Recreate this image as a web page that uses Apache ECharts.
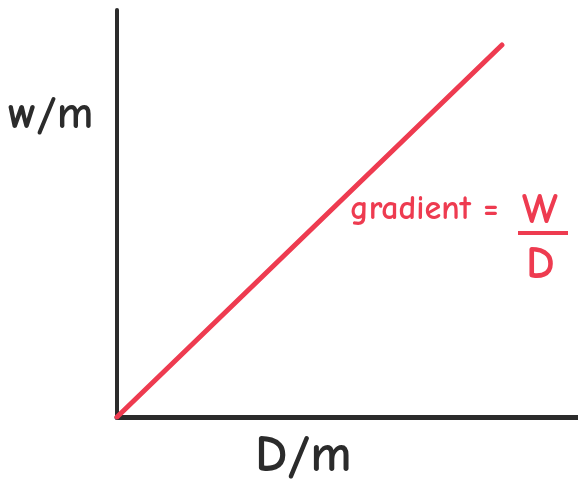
<!DOCTYPE html>
<html>
  <head>
    <meta charset="utf-8" />
    <script src="https://cdn.jsdelivr.net/npm/echarts@6/dist/echarts.min.js"></script>
    <style>
      html, body { margin: 0; padding: 0; background: #ffffff; }
      #chart { width: 578px; height: 495px; }
    </style>
  </head>
  <body>
    <div id="chart"></div>
    <script>
      // straight line through the origin: D on x, W on y
      var lineD = [0, 8.35]
      var lineW = [0, 9.14]
      var xName = 'D/m'
      var yName = 'w/m'
      var gradientLabel = 'gradient ='
      var fracTop = 'W'
      var fracBottom = 'D'

      var red = '#ee3b50'
      var ink = '#2b2b2b'
      var hand = '"Comic Neue", "Liberation Sans", "DejaVu Sans", sans-serif'

      var points = []
      for (var i = 0; i < lineD.length; i++) {
        points.push([lineD[i], lineW[i]])
      }

      var chart = echarts.init(document.getElementById('chart'))
      chart.setOption({
        backgroundColor: '#ffffff',
        animation: false,
        grid: { left: 117, top: 10, right: 0, bottom: 78 },
        xAxis: {
          type: 'value',
          min: 0,
          max: 10,
          axisLine: { show: true, lineStyle: { color: ink, width: 5 } },
          axisTick: { show: false },
          axisLabel: { show: false },
          splitLine: { show: false }
        },
        yAxis: {
          type: 'value',
          min: 0,
          max: 10,
          axisLine: { show: true, lineStyle: { color: ink, width: 4 } },
          axisTick: { show: false },
          axisLabel: { show: false },
          splitLine: { show: false }
        },
        series: [
          {
            type: 'line',
            data: points,
            symbol: 'none',
            lineStyle: { color: red, width: 5, cap: 'round' }
          }
        ],
        graphic: [
          {
            type: 'text',
            left: 8,
            top: 92,
            style: { text: yName, fill: ink, font: 'bold 46px ' + hand }
          },
          {
            type: 'text',
            left: 255,
            top: 430,
            style: { text: xName, fill: ink, font: 'bold 52px ' + hand }
          },
          {
            type: 'text',
            left: 350,
            top: 192,
            style: { text: gradientLabel, fill: red, font: 'bold 34px ' + hand }
          },
          {
            type: 'text',
            left: 522,
            top: 190,
            style: { text: fracTop, fill: red, font: 'bold 42px ' + hand }
          },
          {
            type: 'line',
            shape: { x1: 518, y1: 233, x2: 568, y2: 233 },
            style: { stroke: red, lineWidth: 4 }
          },
          {
            type: 'text',
            left: 526,
            top: 242,
            style: { text: fracBottom, fill: red, font: 'bold 46px ' + hand }
          }
        ]
      })
    </script>
  </body>
</html>
